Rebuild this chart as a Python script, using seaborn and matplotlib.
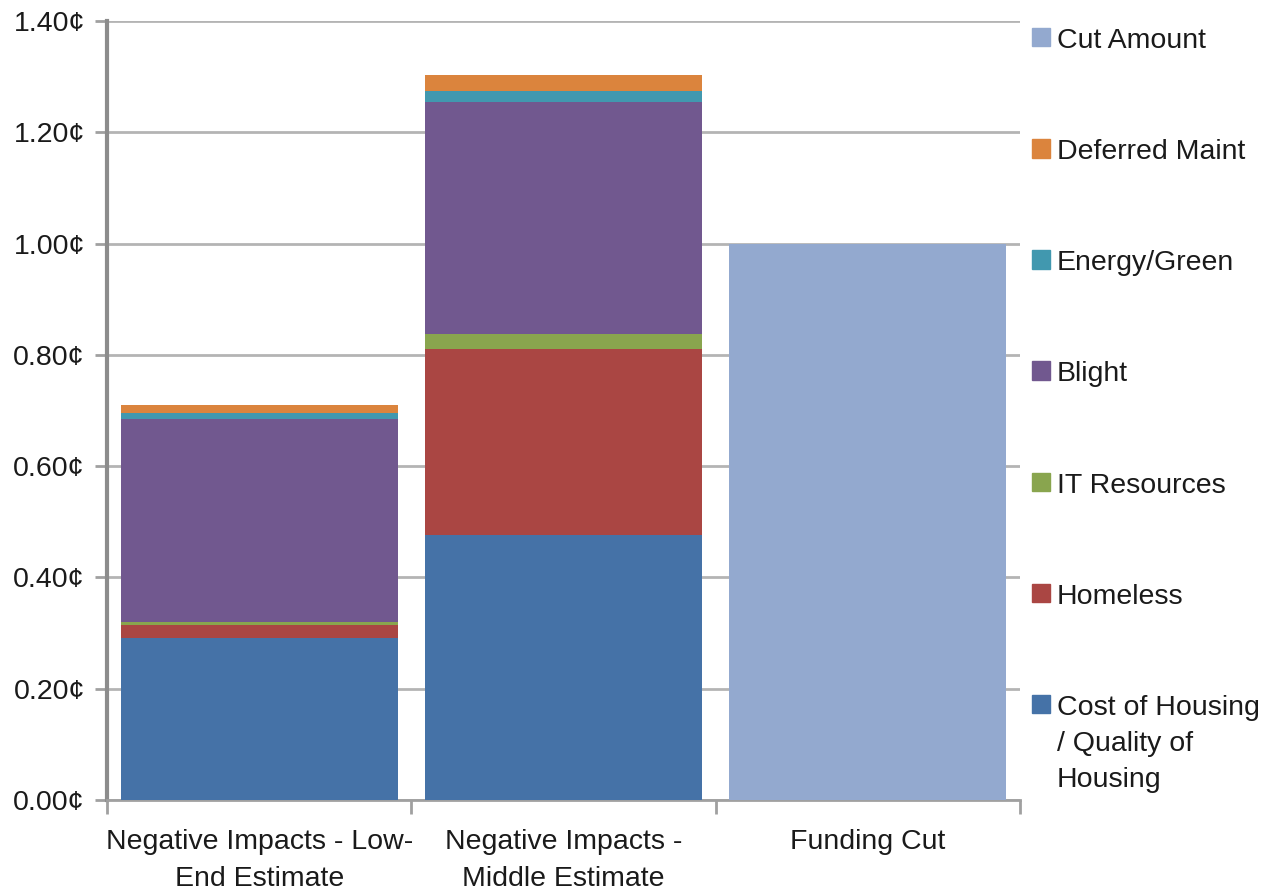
import matplotlib
matplotlib.use("Agg")
import matplotlib.pyplot as plt
import matplotlib.patches as mpatches
import numpy as np
import pandas as pd
import seaborn as sns

categories = ["Negative Impacts - Low-\nEnd Estimate",
              "Negative Impacts -\nMiddle Estimate",
              "Funding Cut"]

housing = [0.292, 0.476, 0.0]
homeless = [0.022, 0.335, 0.0]
it_resources = [0.005, 0.027, 0.0]
blight = [0.366, 0.417, 0.0]
energy_green = [0.010, 0.020, 0.0]
deferred_maint = [0.014, 0.028, 0.0]
cut_amount = [0.0, 0.0, 1.00]

series_names = ["Cost of Housing\n/ Quality of\nHousing", "Homeless", "IT Resources",
                "Blight", "Energy/Green", "Deferred Maint", "Cut Amount"]
series_values = [housing, homeless, it_resources, blight, energy_green,
                 deferred_maint, cut_amount]
colors = ["#4572A7", "#AA4643", "#89A54E", "#71588F", "#4198AF", "#DB843D", "#93A9CF"]

y_ticks = [0.0, 0.2, 0.4, 0.6, 0.8, 1.0, 1.2, 1.4]

sns.set_theme(style="white")
plt.rcParams["font.family"] = ["Liberation Sans", "DejaVu Sans"]

FS = 20.5
fig = plt.figure(figsize=(12.63, 8.96), dpi=100)
ax = fig.add_axes([107 / 1263, 1 - 800 / 896, (1020 - 107) / 1263, (800 - 21) / 896])

# stacked impact bars: paint cumulative totals from the top layer down
df = pd.DataFrame({name: vals for name, vals in zip(series_names, series_values)})
df["category"] = categories
impact_names = series_names[:6]
cum = df[impact_names].cumsum(axis=1)
for i in reversed(range(len(impact_names))):
    sns.barplot(x=df["category"], y=cum[impact_names[i]], color=colors[i],
                saturation=1, width=0.91, linewidth=0, ax=ax, zorder=3)
sns.barplot(x=df["category"], y=df["Cut Amount"], color=colors[6],
            saturation=1, width=0.91, linewidth=0, ax=ax, zorder=3)

ax.set_xlim(-0.5, 2.5)
ax.set_ylim(0, 1.4)
ax.set_yticks(y_ticks)
ax.set_yticklabels([f"{v:.2f}\u00a2" for v in y_ticks])
ax.set_xlabel("")
ax.set_ylabel("")

ax.grid(axis="y", color="#b4b4b4", linewidth=2, zorder=0)
ax.set_axisbelow(True)
for side in ["top", "right"]:
    ax.spines[side].set_visible(False)
ax.spines["left"].set_color("#8c8c8c")
ax.spines["left"].set_linewidth(3)
ax.spines["bottom"].set_color("#a0a0a0")
ax.spines["bottom"].set_linewidth(2)

ax.tick_params(axis="y", which="major", direction="out", length=9, width=2,
               color="#a0a0a0", labelsize=FS, labelcolor="#1a1a1a", pad=7, left=True)
ax.tick_params(axis="x", which="major", length=0, labelsize=FS,
               labelcolor="#1a1a1a", pad=21)
for lbl in ax.get_xticklabels():
    lbl.set_linespacing(1.55)
ax.set_xticks([-0.5, 0.5, 1.5, 2.5], minor=True)
ax.tick_params(axis="x", which="minor", direction="out", length=10, width=2,
               color="#a0a0a0", bottom=True)

handles = [mpatches.Patch(color=c, label=n) for n, c in zip(series_names, colors)]
handles = handles[::-1]
leg = ax.legend(handles=handles, loc="upper left",
                bbox_to_anchor=(1032 / 1263, 1 - 28 / 896), bbox_transform=fig.transFigure,
                frameon=False, fontsize=FS, labelspacing=2.99,
                handlelength=0.62, handleheight=0.62, handletextpad=0.25,
                borderpad=0, borderaxespad=0)
for t in leg.get_texts():
    t.set_color("#1a1a1a")
    t.set_linespacing(1.5)
# keep each swatch level with the first line of its label
for column in leg._legend_handle_box.get_children():
    for row in column.get_children():
        row.align = "top"

fig.savefig("out.png", dpi=100)
